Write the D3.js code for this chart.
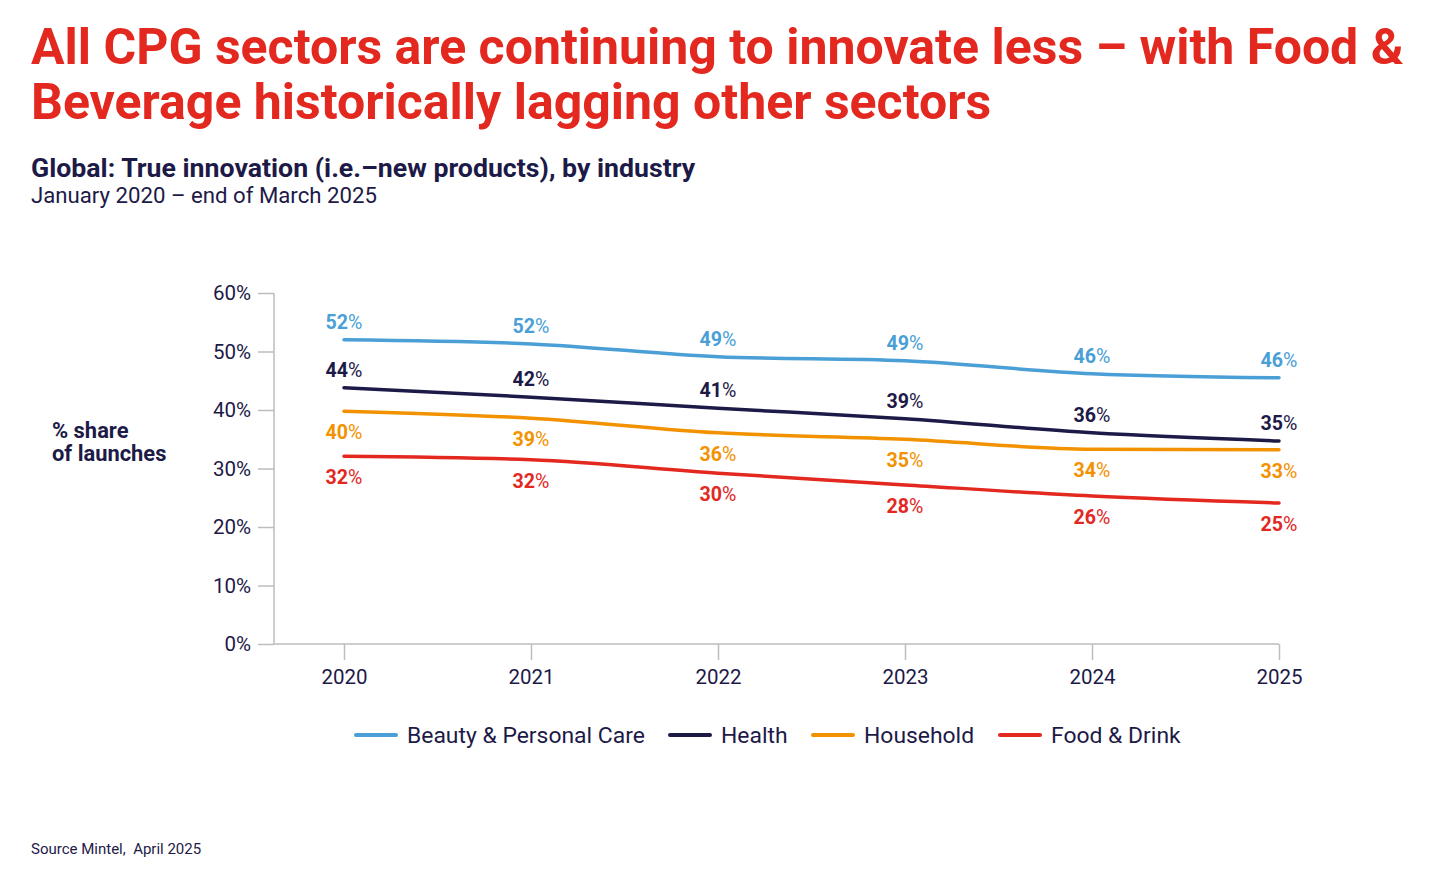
<!DOCTYPE html>
<html><head><meta charset="utf-8">
<script src="https://cdn.jsdelivr.net/npm/d3@7"></script>
<style>
body{margin:0;background:#fff;}
svg{font-family:Roboto,"Noto Sans",sans-serif;}
</style></head><body>
<svg id="c" width="1456" height="887"></svg>
<script>
const years = ["2020","2021","2022","2023","2024","2025"];
const seriesNames = ["Beauty & Personal Care","Health","Household","Food & Drink"];
const beauty    = [52.0, 51.3, 49.1, 48.4, 46.2, 45.5];
const health    = [43.8, 42.2, 40.3, 38.5, 36.1, 34.7];
const household = [39.8, 38.6, 36.1, 35.0, 33.3, 33.2];
const food      = [32.1, 31.5, 29.2, 27.2, 25.3, 24.1];
const beautyLabels    = [52, 52, 49, 49, 46, 46];
const healthLabels    = [44, 42, 41, 39, 36, 35];
const householdLabels = [40, 39, 36, 35, 34, 33];
const foodLabels      = [32, 32, 30, 28, 26, 25];
const yTicks = [0, 10, 20, 30, 40, 50, 60];
const colors = ["#4a9fd6", "#1d1a47", "#f39200", "#e2281f"];

const series = [
  {name: seriesNames[0], values: beauty, labels: beautyLabels, color: colors[0], pos: "above"},
  {name: seriesNames[1], values: health, labels: healthLabels, color: colors[1], pos: "above"},
  {name: seriesNames[2], values: household, labels: householdLabels, color: colors[2], pos: "below"},
  {name: seriesNames[3], values: food, labels: foodLabels, color: colors[3], pos: "below"}
];

const svg = d3.select("#c");
const navy = "#1d1a47";
const red = "#e2281f";

// Titles
svg.append("text").attr("x", 31).attr("y", 64).attr("fill", red)
  .attr("font-size", 50).attr("font-weight", 700)
  .text("All CPG sectors are continuing to innovate less \u2013 with Food &");
svg.append("text").attr("x", 31).attr("y", 119).attr("fill", red)
  .attr("font-size", 50).attr("font-weight", 700)
  .text("Beverage historically lagging other sectors");
svg.append("text").attr("x", 31).attr("y", 177).attr("fill", navy)
  .attr("font-size", 26.7).attr("font-weight", 700)
  .text("Global: True innovation (i.e.\u2013new products), by industry");
svg.append("text").attr("x", 31).attr("y", 203).attr("fill", navy)
  .attr("font-size", 22.2).attr("font-weight", 400)
  .text("January 2020 \u2013 end of March 2025");

// Scales
const x = d3.scalePoint().domain(years).range([344, 1279]);
const y = d3.scaleLinear().domain([0, 60]).range([644, 293]);

const axisColor = "#bdbdbd";
// Y axis
const yAxis = svg.append("g").attr("transform", "translate(274,0)")
  .call(d3.axisLeft(y).tickValues(yTicks).tickSize(16).tickPadding(7).tickFormat(d => d + "%"));
yAxis.select(".domain").attr("stroke", axisColor).attr("stroke-width", 1.5).attr("d", "M0," + y(60) + "V" + y(0));
yAxis.selectAll(".tick line").attr("stroke", axisColor).attr("stroke-width", 1.5);
yAxis.selectAll(".tick text").attr("fill", navy).attr("font-size", 20.5).attr("font-family", "Roboto");

// X axis
const xAxis = svg.append("g").attr("transform", "translate(0,644)")
  .call(d3.axisBottom(x).tickSize(16).tickPadding(9));
xAxis.select(".domain").attr("stroke", axisColor).attr("stroke-width", 1.5).attr("d", "M274,0H1279");
xAxis.selectAll(".tick line").attr("stroke", axisColor).attr("stroke-width", 1.5);
xAxis.selectAll(".tick text").attr("fill", navy).attr("font-size", 20.5).attr("font-family", "Roboto");

// Y label
const yl = svg.append("text").attr("fill", navy).attr("font-size", 21.9).attr("font-weight", 700);
yl.append("tspan").attr("x", 52).attr("y", 438).text("% share");
yl.append("tspan").attr("x", 52).attr("y", 461).text("of launches");

// Lines
const line = d3.line().x((d, i) => x(years[i])).y(d => y(d)).curve(d3.curveMonotoneX);
series.forEach(s => {
  svg.append("path").datum(s.values).attr("d", line)
    .attr("fill", "none").attr("stroke", s.color).attr("stroke-width", 3.5)
    .attr("stroke-linecap", "round").attr("stroke-linejoin", "round");
  const g = svg.append("g");
  s.values.forEach((v, i) => {
    const ty = s.pos === "above" ? y(v) - 11 : y(v) + 28;
    const t = g.append("text").attr("x", x(years[i])).attr("y", ty)
      .attr("text-anchor", "middle").attr("fill", s.color).attr("font-size", 19.6);
    t.append("tspan").attr("font-weight", 700).text(s.labels[i]);
    t.append("tspan").attr("font-weight", 400).text("%");
  });
});

// Legend
const legendX = [356, 670, 813, 1000];
const legend = svg.append("g");
series.forEach((s, i) => {
  legend.append("line").attr("x1", legendX[i]).attr("x2", legendX[i] + 40)
    .attr("y1", 735).attr("y2", 735).attr("stroke", s.color).attr("stroke-width", 4)
    .attr("stroke-linecap", "round");
  legend.append("text").attr("x", legendX[i] + 51).attr("y", 743)
    .attr("fill", navy).attr("font-size", 22.9).text(s.name);
});

// Source
svg.append("text").attr("x", 31).attr("y", 854).attr("fill", navy)
  .attr("font-size", 15).attr("xml:space", "preserve").text("Source Mintel,  April 2025");
</script>
</body></html>
